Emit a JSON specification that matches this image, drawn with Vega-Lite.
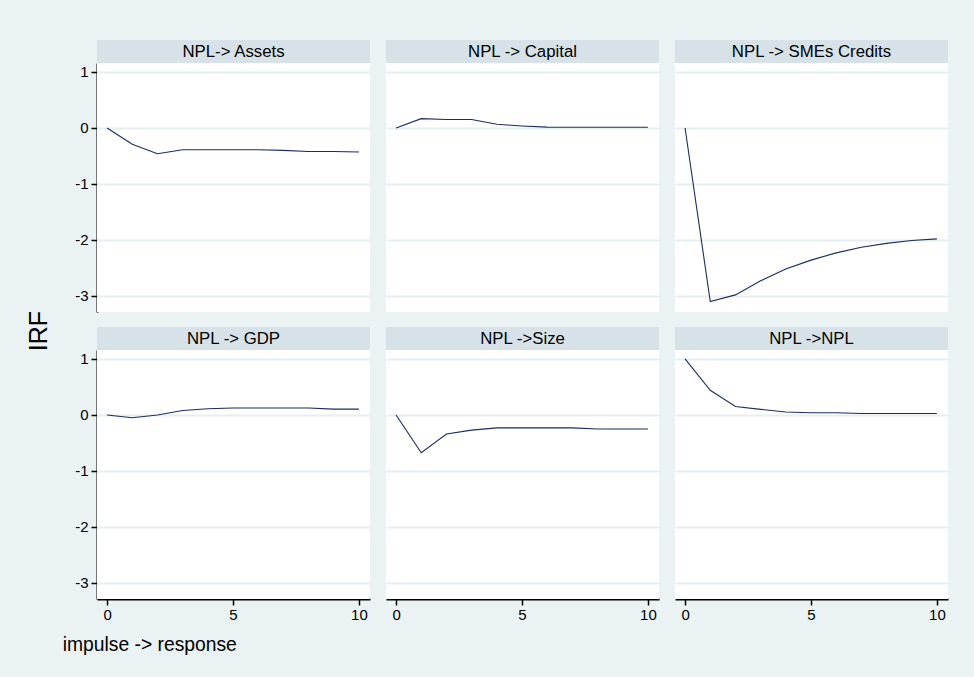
{
  "$schema": "https://vega.github.io/schema/vega-lite/v6.json",
  "background": "#eaf2f3",
  "padding": {"left": 26, "top": 39, "right": 26, "bottom": 21},
  "title": {"text": "impulse -> response", "orient": "bottom", "anchor": "start", "frame": "bounds", "dx": 36, "offset": 14, "fontSize": 19.3, "font": "Liberation Sans", "fontWeight": "normal", "color": "#000000"},
  "vconcat": [
    {
      "title": {"text": "IRF", "orient": "left", "anchor": "middle", "offset": 23, "fontSize": 25, "font": "Liberation Sans", "fontWeight": "normal", "color": "#000000"},
      "data": {"values": [
        {"panel": "NPL-> Assets", "t": 0, "irf": 0},
        {"panel": "NPL-> Assets", "t": 1, "irf": -0.29},
        {"panel": "NPL-> Assets", "t": 2, "irf": -0.46},
        {"panel": "NPL-> Assets", "t": 3, "irf": -0.39},
        {"panel": "NPL-> Assets", "t": 4, "irf": -0.39},
        {"panel": "NPL-> Assets", "t": 5, "irf": -0.39},
        {"panel": "NPL-> Assets", "t": 6, "irf": -0.39},
        {"panel": "NPL-> Assets", "t": 7, "irf": -0.40},
        {"panel": "NPL-> Assets", "t": 8, "irf": -0.42},
        {"panel": "NPL-> Assets", "t": 9, "irf": -0.42},
        {"panel": "NPL-> Assets", "t": 10, "irf": -0.43},
        {"panel": "NPL -> Capital", "t": 0, "irf": 0},
        {"panel": "NPL -> Capital", "t": 1, "irf": 0.167},
        {"panel": "NPL -> Capital", "t": 2, "irf": 0.15},
        {"panel": "NPL -> Capital", "t": 3, "irf": 0.15},
        {"panel": "NPL -> Capital", "t": 4, "irf": 0.065},
        {"panel": "NPL -> Capital", "t": 5, "irf": 0.036},
        {"panel": "NPL -> Capital", "t": 6, "irf": 0.015},
        {"panel": "NPL -> Capital", "t": 7, "irf": 0.012},
        {"panel": "NPL -> Capital", "t": 8, "irf": 0.012},
        {"panel": "NPL -> Capital", "t": 9, "irf": 0.012},
        {"panel": "NPL -> Capital", "t": 10, "irf": 0.012},
        {"panel": "NPL -> SMEs Credits", "t": 0, "irf": 0},
        {"panel": "NPL -> SMEs Credits", "t": 1, "irf": -3.1},
        {"panel": "NPL -> SMEs Credits", "t": 2, "irf": -2.98},
        {"panel": "NPL -> SMEs Credits", "t": 3, "irf": -2.73},
        {"panel": "NPL -> SMEs Credits", "t": 4, "irf": -2.52},
        {"panel": "NPL -> SMEs Credits", "t": 5, "irf": -2.36},
        {"panel": "NPL -> SMEs Credits", "t": 6, "irf": -2.23},
        {"panel": "NPL -> SMEs Credits", "t": 7, "irf": -2.13},
        {"panel": "NPL -> SMEs Credits", "t": 8, "irf": -2.06},
        {"panel": "NPL -> SMEs Credits", "t": 9, "irf": -2.01},
        {"panel": "NPL -> SMEs Credits", "t": 10, "irf": -1.98},
        {"panel": "NPL -> GDP", "t": 0, "irf": 0},
        {"panel": "NPL -> GDP", "t": 1, "irf": -0.05},
        {"panel": "NPL -> GDP", "t": 2, "irf": 0.0},
        {"panel": "NPL -> GDP", "t": 3, "irf": 0.08},
        {"panel": "NPL -> GDP", "t": 4, "irf": 0.11},
        {"panel": "NPL -> GDP", "t": 5, "irf": 0.125},
        {"panel": "NPL -> GDP", "t": 6, "irf": 0.125},
        {"panel": "NPL -> GDP", "t": 7, "irf": 0.125},
        {"panel": "NPL -> GDP", "t": 8, "irf": 0.125},
        {"panel": "NPL -> GDP", "t": 9, "irf": 0.105},
        {"panel": "NPL -> GDP", "t": 10, "irf": 0.105},
        {"panel": "NPL ->Size", "t": 0, "irf": 0},
        {"panel": "NPL ->Size", "t": 1, "irf": -0.675},
        {"panel": "NPL ->Size", "t": 2, "irf": -0.34},
        {"panel": "NPL ->Size", "t": 3, "irf": -0.27},
        {"panel": "NPL ->Size", "t": 4, "irf": -0.23},
        {"panel": "NPL ->Size", "t": 5, "irf": -0.23},
        {"panel": "NPL ->Size", "t": 6, "irf": -0.23},
        {"panel": "NPL ->Size", "t": 7, "irf": -0.23},
        {"panel": "NPL ->Size", "t": 8, "irf": -0.25},
        {"panel": "NPL ->Size", "t": 9, "irf": -0.25},
        {"panel": "NPL ->Size", "t": 10, "irf": -0.25},
        {"panel": "NPL ->NPL", "t": 0, "irf": 1.0},
        {"panel": "NPL ->NPL", "t": 1, "irf": 0.44},
        {"panel": "NPL ->NPL", "t": 2, "irf": 0.15},
        {"panel": "NPL ->NPL", "t": 3, "irf": 0.10},
        {"panel": "NPL ->NPL", "t": 4, "irf": 0.053},
        {"panel": "NPL ->NPL", "t": 5, "irf": 0.04},
        {"panel": "NPL ->NPL", "t": 6, "irf": 0.04},
        {"panel": "NPL ->NPL", "t": 7, "irf": 0.025},
        {"panel": "NPL ->NPL", "t": 8, "irf": 0.025},
        {"panel": "NPL ->NPL", "t": 9, "irf": 0.025},
        {"panel": "NPL ->NPL", "t": 10, "irf": 0.025}
      ]},
      "facet": {
        "field": "panel",
        "type": "nominal",
        "sort": ["NPL-> Assets", "NPL -> Capital", "NPL -> SMEs Credits", "NPL -> GDP", "NPL ->Size", "NPL ->NPL"],
        "title": null,
        "header": {"title": null, "labels": false, "labelExpr": "''", "labelFontSize": 0, "labelPadding": 0}
      },
      "columns": 3,
      "spacing": {"row": 38, "column": 16},
      "bounds": "flush",
      "spec": {
        "width": 273,
        "height": 249,
        "layer": [
          {
            "transform": [{"filter": "datum.t == 0"}],
            "mark": {"type": "rect", "fill": "#d6e2e7", "stroke": null},
            "encoding": {
              "x": {"datum": -0.4},
              "x2": {"datum": 10.44},
              "y": {"datum": 1.16},
              "y2": {"datum": 1.571}
            }
          },
          {
            "transform": [{"filter": "datum.t == 0"}],
            "mark": {"type": "text", "font": "Liberation Sans", "fontSize": 16.8, "color": "#000000", "baseline": "middle", "align": "center"},
            "encoding": {
              "x": {"datum": 5.02},
              "y": {"datum": 1.36},
              "text": {"field": "panel"}
            }
          },
          {
            "mark": {"type": "line", "color": "#1c2c5e", "strokeWidth": 1.1},
            "encoding": {
              "x": {
                "field": "t", "type": "quantitative",
                "scale": {"domain": [-0.4, 10.44], "nice": false, "zero": false},
                "axis": {"values": [0, 5, 10], "grid": false, "title": null, "labelPadding": 2, "labelExpr": "'' + datum.value"}
              },
              "y": {
                "field": "irf", "type": "quantitative",
                "scale": {"domain": [-3.286, 1.16], "nice": false, "zero": false},
                "axis": {"values": [-3, -2, -1, 0, 1], "grid": true, "title": null, "labelExpr": "'' + datum.value"}
              }
            }
          }
        ]
      }
    }
  ],
  "config": {
    "font": "Liberation Sans",
    "view": {"fill": "#ffffff", "stroke": null},
    "header": {"labels": false, "title": null},
    "headerFacet": {"labels": false, "title": null},
    "axis": {
      "domainColor": "#000000",
      "domainWidth": 2,
      "tickColor": "#000000",
      "tickWidth": 1.5,
      "tickSize": 6,
      "labelFont": "Liberation Sans",
      "labelFontSize": 15,
      "labelColor": "#000000",
      "labelPadding": 3,
      "gridColor": "#e6eef1",
      "gridWidth": 2
    }
  }
}
